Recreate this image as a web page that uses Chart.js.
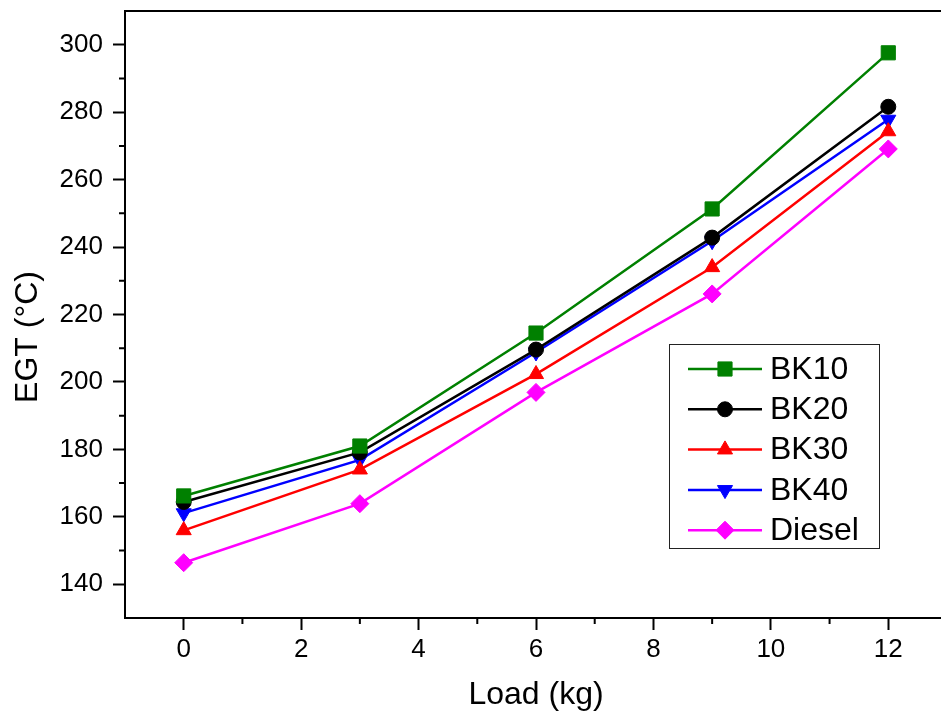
<!DOCTYPE html>
<html>
<head>
<meta charset="utf-8">
<script src="https://cdn.jsdelivr.net/npm/chart.js@4"></script>
<style>
  html, body { margin: 0; padding: 0; background: #fff; overflow: hidden; }
  #wrap { width: 960px; height: 720px; position: relative; }
</style>
</head>
<body>
<div id="wrap"><canvas id="chart-egt"></canvas></div>
<script>
// EGT vs load for the blends and plain diesel
const loads = [0, 3, 6, 9, 12]
const bk10 = [166.2, 181.0, 214.5, 251.3, 297.6]
const bk20 = [164.4, 179.1, 209.6, 242.8, 281.6]
const bk30 = [156.0, 174.0, 202.3, 234.0, 274.3]
const bk40 = [161.1, 176.9, 208.8, 241.8, 277.8]
const diesel = [146.4, 163.9, 196.9, 226.1, 269.1]

const xTicks = [0, 2, 4, 6, 8, 10, 12]
const yTicks = [140, 160, 180, 200, 220, 240, 260, 280, 300]

const FONT = "'Liberation Sans', Arial, sans-serif"
const Y_TITLE = "EGT (°C)"

function series(label, values, color, pointStyle, radius, rotation = 0) {
  return {
    label,
    data: loads.map((x, i) => ({ x, y: values[i] })),
    borderColor: color,
    backgroundColor: color,
    borderWidth: 2.5,
    pointStyle,
    pointRadius: radius,
    pointRotation: rotation,
    pointBorderWidth: 1,
    pointBackgroundColor: color,
    pointBorderColor: color,
    tension: 0,
  }
}

// midpoints between major ticks, drawn as short ticks
function minorTicks(major) {
  const out = []
  for (let i = 0; i < major.length - 1; i++) out.push((major[i] + major[i + 1]) / 2)
  out.push(major[0] - (major[1] - major[0]) / 2)
  out.push(major[major.length - 1] + (major[1] - major[0]) / 2)
  return out
}

// no extra room for half labels at the scale ends
function noEndPadding(scale) {
  scale.paddingTop = 0
  scale.paddingBottom = 0
  scale.paddingLeft = 0
  scale.paddingRight = 0
}

const framePlugin = {
  id: "frame",
  afterDraw(chart) {
    const { ctx, chartArea: a, scales } = chart
    ctx.save()
    ctx.strokeStyle = "#000"
    ctx.lineWidth = 2
    ctx.beginPath()
    ctx.moveTo(a.left - 1, a.top)
    ctx.lineTo(a.right, a.top)
    ctx.lineTo(a.right, a.bottom)
    ctx.stroke()

    ctx.beginPath()
    minorTicks(xTicks).forEach((v) => {
      const px = scales.x.getPixelForValue(v)
      if (px <= a.left || px >= a.right) return
      ctx.moveTo(px, a.bottom)
      ctx.lineTo(px, a.bottom + 6)
    })
    minorTicks(yTicks).forEach((v) => {
      const py = scales.y.getPixelForValue(v)
      if (py <= a.top || py >= a.bottom) return
      ctx.moveTo(a.left, py)
      ctx.lineTo(a.left - 6, py)
    })
    ctx.stroke()

    // y title sits a bit below the middle of the axis
    ctx.translate(28, a.top + 326)
    ctx.rotate(-Math.PI / 2)
    ctx.font = "32px " + FONT
    ctx.fillStyle = "#000"
    ctx.textAlign = "center"
    ctx.textBaseline = "middle"
    ctx.fillText(Y_TITLE, 0, 0)
    ctx.restore()
  },
}

const legendPlugin = {
  id: "boxLegend",
  afterDraw(chart) {
    const { ctx, chartArea: a } = chart
    const bx = a.left + 544
    const by = a.top + 333
    ctx.save()
    ctx.strokeStyle = "#222"
    ctx.lineWidth = 1
    ctx.strokeRect(bx + 0.5, by + 0.5, 210, 204)
    ctx.font = "32px " + FONT
    ctx.textBaseline = "middle"
    chart.data.datasets.forEach((ds, i) => {
      const y = by + 25 + i * 40.3
      ctx.strokeStyle = ds.borderColor
      ctx.fillStyle = ds.borderColor
      ctx.lineWidth = 2.5
      ctx.beginPath()
      ctx.moveTo(bx + 19, y)
      ctx.lineTo(bx + 93, y)
      ctx.stroke()
      ctx.lineWidth = 1
      Chart.helpers.drawPoint(ctx, {
        pointStyle: ds.pointStyle,
        radius: ds.pointRadius,
        rotation: ds.pointRotation,
        borderWidth: 1,
      }, bx + 56, y)
      ctx.fillStyle = "#000"
      ctx.fillText(ds.label, bx + 101, y + 1)
    })
    ctx.restore()
  },
}

new Chart(document.getElementById("chart-egt"), {
  type: "line",
  data: {
    datasets: [
      series("BK10", bk10, "#008000", "rect", 10),
      series("BK20", bk20, "#000000", "circle", 7.5),
      series("BK30", bk30, "#ff0000", "triangle", 8.7),
      series("BK40", bk40, "#0000ff", "triangle", 8.7, 180),
      series("Diesel", diesel, "#ff00ff", "rectRot", 9),
    ],
  },
  options: {
    responsive: true,
    maintainAspectRatio: false,
    animation: false,
    layout: { padding: { top: 10, right: 13, left: 0, bottom: 0 } },
    plugins: { legend: { display: false }, tooltip: { enabled: false } },
    scales: {
      x: {
        type: "linear",
        min: -1,
        max: 13,
        afterBuildTicks: (scale) => { scale.ticks = xTicks.map((value) => ({ value })) },
        afterFit: (scale) => { scale.height = 102; noEndPadding(scale) },
        grid: { drawOnChartArea: false, tickLength: 12, tickWidth: 2, color: "#000" },
        border: { color: "#000", width: 2 },
        ticks: { color: "#000", font: { family: FONT, size: 26 }, padding: 4, maxRotation: 0 },
        title: {
          display: true,
          text: "Load (kg)",
          color: "#000",
          font: { family: FONT, size: 32 },
          padding: { top: 0, bottom: 6 },
        },
      },
      y: {
        min: 130,
        max: 310,
        afterBuildTicks: (scale) => { scale.ticks = yTicks.map((value) => ({ value })) },
        afterFit: (scale) => { scale.width = 125; noEndPadding(scale) },
        grid: { drawOnChartArea: false, tickLength: 12, tickWidth: 2, color: "#000" },
        border: { color: "#000", width: 2 },
        ticks: { color: "#000", font: { family: FONT, size: 26 }, padding: 10 },
      },
    },
  },
  plugins: [framePlugin, legendPlugin],
})
</script>
</body>
</html>
